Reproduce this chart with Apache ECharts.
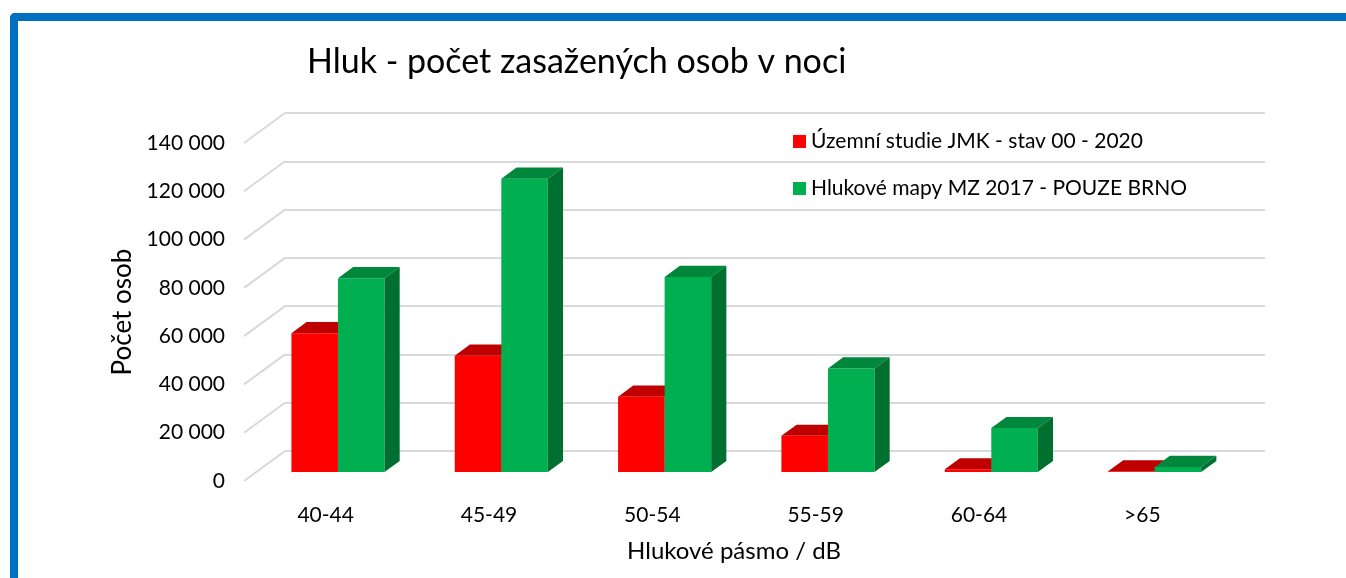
<!DOCTYPE html>
<html>
<head>
<meta charset="utf-8">
<script src="https://cdn.jsdelivr.net/npm/echarts@6/dist/echarts.min.js"></script>
<style>
    html, body { margin: 0; padding: 0; background: #fff; }
    #chart { width: 1346px; height: 578px; }
    #frame {
        position: absolute; left: 10px; top: 13px; right: 0; bottom: 0;
        border-top: 8px solid #0070C0; border-left: 8px solid #0070C0;
        border-top-left-radius: 5px; pointer-events: none;
    }
</style>
</head>
<body>
<div id="chart"></div>
<div id="frame"></div>
<script>
// ===== 数据 =====
const categories = ['40-44', '45-49', '50-54', '55-59', '60-64', '>65'];
const seriesNames = ['Územní studie JMK - stav 00 - 2020', 'Hlukové mapy MZ 2017 - POUZE BRNO'];
const studieValues = [57500, 48200, 31200, 15000, 1100, 300];
const mapyValues = [80300, 121500, 80800, 42900, 18200, 2100];
const yTicks = [0, 20000, 40000, 60000, 80000, 100000, 120000, 140000];

// ===== 3D 投影参数 =====
const DX = -41, DY = 30;          // 背墙 -> 前沿 偏移
const FRONT_DEPTH = 0.7;          // 柱子正面所在深度
const BACK_DEPTH = 0.33;          // 柱子背面所在深度
const BAR_FRAC = 0.285;           // 单根柱宽 / 类目宽

const FACE = [
    { front: '#FF0000', top: '#C00000', side: '#A00000' },
    { front: '#00B050', top: '#00873C', side: '#007030' }
];

const FONT = 'Lato, "Open Sans", sans-serif';

const chart = echarts.init(document.getElementById('chart'));

function barRenderer(s) {
    return function (params, api) {
        const i = api.value(0), v = api.value(1);
        const base = api.coord([i, 0]);
        const top = api.coord([i, v]);
        const catW = api.size([1, 0])[0];
        const bw = catW * BAR_FRAC;
        const fx = DX * FRONT_DEPTH, fy = DY * FRONT_DEPTH;
        const ddx = DX * (BACK_DEPTH - FRONT_DEPTH), ddy = DY * (BACK_DEPTH - FRONT_DEPTH);
        const x0 = base[0] + fx + (s - 1) * bw;
        const yb = base[1] + fy, yt = top[1] + fy;
        const c = FACE[s];
        return {
            type: 'group',
            children: [
                { type: 'rect', shape: { x: x0, y: yt, width: bw, height: yb - yt }, style: { fill: c.front } },
                { type: 'polygon', shape: { points: [[x0, yt], [x0 + bw, yt], [x0 + bw + ddx, yt + ddy], [x0 + ddx, yt + ddy]] }, style: { fill: c.top } },
                { type: 'polygon', shape: { points: [[x0 + bw, yt], [x0 + bw + ddx, yt + ddy], [x0 + bw + ddx, yb + ddy], [x0 + bw, yb]] }, style: { fill: c.side } }
            ]
        };
    };
}

const option = {
    animation: false,
    backgroundColor: 'transparent',
    title: {
        text: 'Hluk - počet zasažených osob v noci',
        left: 302, top: 40,
        textStyle: { fontFamily: FONT, fontSize: 34, fontWeight: 'normal', color: '#000' }
    },
    legend: {
        data: seriesNames,
        orient: 'vertical',
        left: 788, top: 126,
        itemWidth: 13, itemHeight: 13, itemGap: 26,
        icon: 'rect',
        textStyle: { fontFamily: FONT, fontSize: 21, color: '#000' }
    },
    grid: [
        // 背墙
        { left: 285, right: 81, top: 113, bottom: 127 },
        // 前沿（用于刻度标签）
        { left: 285 + DX, right: 81 - DX, top: 113 + DY, bottom: 127 - DY }
    ],
    xAxis: [
        { gridIndex: 0, type: 'category', data: categories, axisLine: { show: false }, axisTick: { show: false }, axisLabel: { show: false } },
        {
            gridIndex: 1, type: 'category', data: categories,
            axisLine: { show: false }, axisTick: { show: false },
            axisLabel: { margin: 24, fontFamily: FONT, fontSize: 21, color: '#000' },
            name: 'Hlukové pásmo / dB', nameLocation: 'middle', nameGap: 58,
            nameTextStyle: { fontFamily: FONT, fontSize: 24, color: '#000' }
        }
    ],
    yAxis: [
        {
            gridIndex: 0, type: 'value', min: 0, max: 140000, interval: 20000,
            axisLine: { show: false }, axisTick: { show: false }, axisLabel: { show: false },
            splitLine: { show: true, lineStyle: { color: '#D9D9D9', width: 2 } }
        },
        {
            gridIndex: 1, type: 'value', min: 0, max: 140000, interval: 20000,
            axisLine: { show: false }, axisTick: { show: false }, splitLine: { show: false },
            axisLabel: {
                margin: 19, fontFamily: FONT, fontSize: 21, color: '#000',
                formatter: v => String(v).replace(/\B(?=(\d{3})+(?!\d))/g, ' ')
            },
            name: 'Počet osob', nameLocation: 'middle', nameGap: 108, nameRotate: 90,
            nameTextStyle: { fontFamily: FONT, fontSize: 26, color: '#000' }
        }
    ],
    series: [
        {
            // 左侧墙的斜线
            type: 'custom', name: 'sidewall', xAxisIndex: 0, yAxisIndex: 0,
            data: yTicks.map(v => [0, v]),
            silent: true, z: 1,
            renderItem: function (params, api) {
                const p = api.coord([0, api.value(1)]);
                const x = params.coordSys.x;
                return {
                    type: 'line',
                    shape: { x1: x, y1: p[1], x2: x + DX, y2: p[1] + DY },
                    style: { stroke: '#D9D9D9', lineWidth: 2 }
                };
            }
        },
        {
            type: 'custom', name: seriesNames[0], xAxisIndex: 0, yAxisIndex: 0,
            itemStyle: { color: FACE[0].front }, z: 3,
            data: studieValues.map((v, i) => [i, v]),
            renderItem: barRenderer(0)
        },
        {
            type: 'custom', name: seriesNames[1], xAxisIndex: 0, yAxisIndex: 0,
            itemStyle: { color: FACE[1].front }, z: 4,
            data: mapyValues.map((v, i) => [i, v]),
            renderItem: barRenderer(1)
        }
    ]
};

chart.setOption(option);
window.addEventListener('resize', () => chart.resize());
</script>
</body>
</html>
